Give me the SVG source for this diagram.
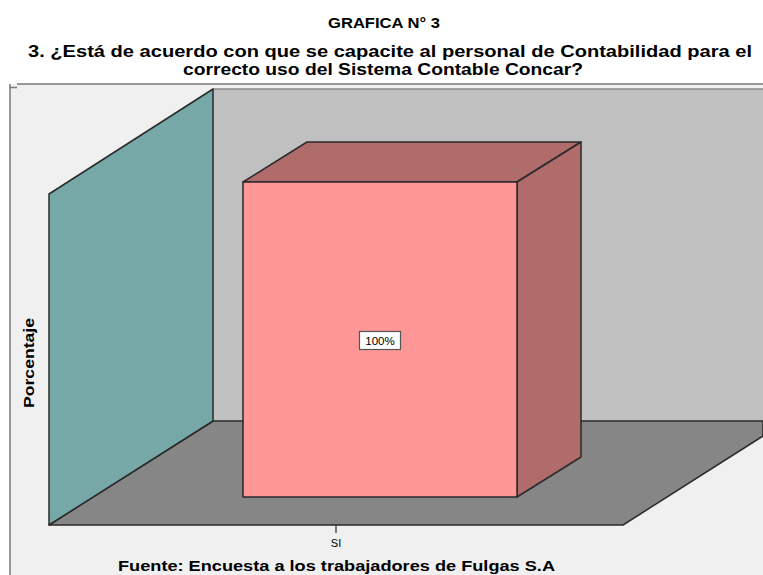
<svg xmlns="http://www.w3.org/2000/svg" width="763" height="575" viewBox="0 0 763 575">
<style>
.t{font-family:"Liberation Sans",Arial,sans-serif;fill:#000}
.b{font-weight:bold}
.e{stroke:#2a2a2a;stroke-width:1.5;stroke-linejoin:round}
</style>
<rect width="763" height="575" fill="#ffffff"/>
<g id="title">
<text class="t b" x="384" y="28" font-size="15" text-anchor="middle" textLength="112" lengthAdjust="spacingAndGlyphs">GRAFICA N° 3</text>
<text class="t b" x="390" y="57" font-size="17" text-anchor="middle" textLength="724" lengthAdjust="spacingAndGlyphs">3. ¿Está de acuerdo con que se capacite al personal de Contabilidad para el</text>
<text class="t b" x="383" y="75" font-size="17" text-anchor="middle" textLength="400" lengthAdjust="spacingAndGlyphs">correcto uso del Sistema Contable Concar?</text>
</g>
<g id="chart-frame">
<rect x="10" y="84" width="753" height="491" fill="#f0f0f0"/>
<line x1="17" y1="84" x2="763" y2="84" stroke="#7a7a7a" stroke-width="1.5"/>
<line x1="10" y1="84" x2="10" y2="575" stroke="#7a7a7a" stroke-width="1.5"/>
<line x1="10" y1="87.5" x2="17" y2="87.5" stroke="#7a7a7a" stroke-width="1.5"/>
</g>
<g id="back-wall">
<rect x="213" y="89" width="550" height="332" fill="#c0c0c0"/>
<line x1="213" y1="89" x2="763" y2="89" stroke="#8a8a8a" stroke-width="1.5"/>
</g>
<g id="floor">
<polygon class="e" points="49,525 213,421 763,421 763,436 623,525" fill="#868686"/>
</g>
<g id="left-wall">
<polygon class="e" points="49,194 213,89 213,421 49,525" fill="#77a8a8"/>
</g>
<g id="bar-si">
<polygon class="e" points="243,182 307,142 581,142 517,182" fill="#b06b6b"/>
<polygon class="e" points="517,182 581,142 581,457 517,497" fill="#b06b6b"/>
<rect class="e" x="243" y="182" width="274" height="315" fill="#ff9797"/>
</g>
<g id="label-100">
<rect x="359.5" y="331.5" width="41" height="18" fill="#ffffff" stroke="#555" stroke-width="1.2"/>
<text class="t" x="380" y="345" font-size="11.5" text-anchor="middle">100%</text>
</g>
<g id="axes">
<line x1="336" y1="525" x2="336" y2="533" stroke="#2a2a2a" stroke-width="1.2"/>
<text class="t" x="336" y="547" font-size="11" text-anchor="middle" fill="#333">SI</text>
<text class="t b" transform="translate(34,363) rotate(-90)" font-size="15" text-anchor="middle" textLength="90" lengthAdjust="spacingAndGlyphs">Porcentaje</text>
</g>
<g id="footer">
<text class="t b" x="118" y="571" font-size="15.5" textLength="437" lengthAdjust="spacingAndGlyphs">Fuente: Encuesta a los trabajadores de Fulgas S.A</text>
</g>
</svg>
